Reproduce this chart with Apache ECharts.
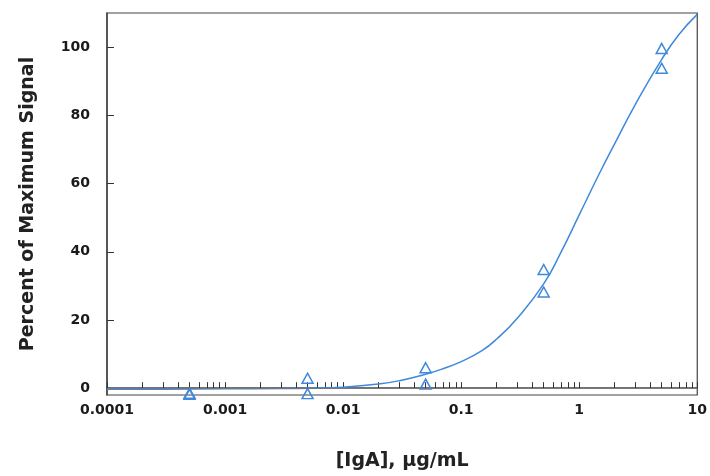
<!DOCTYPE html>
<html>
<head>
<meta charset="utf-8">
<script src="https://cdn.jsdelivr.net/npm/echarts@6/dist/echarts.min.js"></script>
<style>
  html, body { margin: 0; padding: 0; background: #fff; }
  #main { width: 710px; height: 476px; }
</style>
</head>
<body>
<div id="main"></div>
<script>
// measured points, two replicates per concentration
var doseX = [0.0005, 0.0005, 0.005, 0.005, 0.05, 0.05, 0.5, 0.5, 5, 5];
var signalY = [-1.5, -1.8, 2.9, -1.6, 6.0, 1.2, 34.8, 28.2, 99.6, 93.8];

// fitted curve
var curveX = [0.0001, 0.0003, 0.001, 0.003, 0.005, 0.01, 0.02, 0.03, 0.05, 0.07, 0.1, 0.15, 0.2, 0.3, 0.5, 0.7, 1, 1.5, 2, 3, 5, 7, 10];
var curveY = [-0.3, -0.3, -0.2, -0.1, 0, 0.3, 1.2, 2.2, 4.1, 5.7, 7.8, 11.0, 14.4, 20.6, 30.6, 39.8, 50.8, 63.3, 71.7, 83.3, 96.4, 103.7, 109.6];

// axis ticks
var xTickValues = [];
[0.0001, 0.001, 0.01, 0.1, 1].forEach(function (d) {
    for (var k = 1; k < 10; k++) xTickValues.push(+(k * d).toPrecision(2));
});
xTickValues.push(10);
var xLabelValues = [0.0001, 0.001, 0.01, 0.1, 1, 10];
var xLabels = ['0.0001', '0.001', '0.01', '0.1', '1', '10'];
var yTickValues = [0, 20, 40, 60, 80, 100];

var blue = '#3f88dc';
var font = 'DejaVu Sans';

var myChart = echarts.init(document.getElementById('main'));

myChart.setOption({
    animation: false,
    backgroundColor: '#fff',
    grid: {
        left: 107, right: 11, top: 13, bottom: 79,
        show: true, borderColor: '#444', borderWidth: 1.2
    },
    xAxis: {
        type: 'log',
        logBase: 10,
        min: 0.0001,
        max: 10,
        name: '[IgA], \u00b5g/mL',
        nameLocation: 'middle',
        nameGap: 57,
        nameTextStyle: { fontFamily: font, fontWeight: 'bold', fontSize: 19, color: '#222' },
        axisLine: { lineStyle: { color: '#444', width: 1.5 } },
        axisTick: { inside: true, length: 6, customValues: xTickValues, lineStyle: { color: '#333' } },
        minorTick: { show: false },
        axisLabel: {
            customValues: xLabelValues,
            margin: 8,
            fontFamily: font, fontWeight: 'bold', fontSize: 14, color: '#1a1a1a',
            formatter: function (v) {
                for (var i = 0; i < xLabelValues.length; i++) {
                    if (Math.abs(Math.log10(v) - Math.log10(xLabelValues[i])) < 1e-6) return xLabels[i];
                }
                return '';
            }
        },
        splitLine: { show: false }
    },
    yAxis: {
        type: 'value',
        min: -2,
        max: 110,
        name: 'Percent of Maximum Signal',
        nameLocation: 'middle',
        nameGap: 69,
        nameTextStyle: { fontFamily: font, fontWeight: 'bold', fontSize: 19, color: '#222' },
        axisLine: { show: true, lineStyle: { color: '#444', width: 1.5 } },
        axisTick: { show: true, inside: true, length: 7, customValues: yTickValues, lineStyle: { color: '#333' } },
        axisLabel: {
            customValues: yTickValues,
            margin: 17,
            fontFamily: font, fontWeight: 'bold', fontSize: 14, color: '#1a1a1a'
        },
        splitLine: { show: false }
    },
    series: [
        {
            name: 'fit',
            type: 'line',
            smooth: 0.5,
            symbol: 'none',
            data: curveX.map(function (x, i) { return [x, curveY[i]]; }),
            lineStyle: { color: blue, width: 1.5 },
            markLine: {
                silent: true,
                symbol: 'none',
                label: { show: false },
                lineStyle: { color: '#777', type: 'solid', width: 1.2 },
                data: [{ yAxis: 0 }]
            },
            z: 3
        },
        {
            name: 'data',
            type: 'scatter',
            symbol: 'triangle',
            symbolSize: [11, 10],
            data: doseX.map(function (x, i) { return [x, signalY[i]]; }),
            itemStyle: { color: 'rgba(255,255,255,0)', borderColor: blue, borderWidth: 1.5, opacity: 1 },
            z: 4
        }
    ]
});
</script>
</body>
</html>
